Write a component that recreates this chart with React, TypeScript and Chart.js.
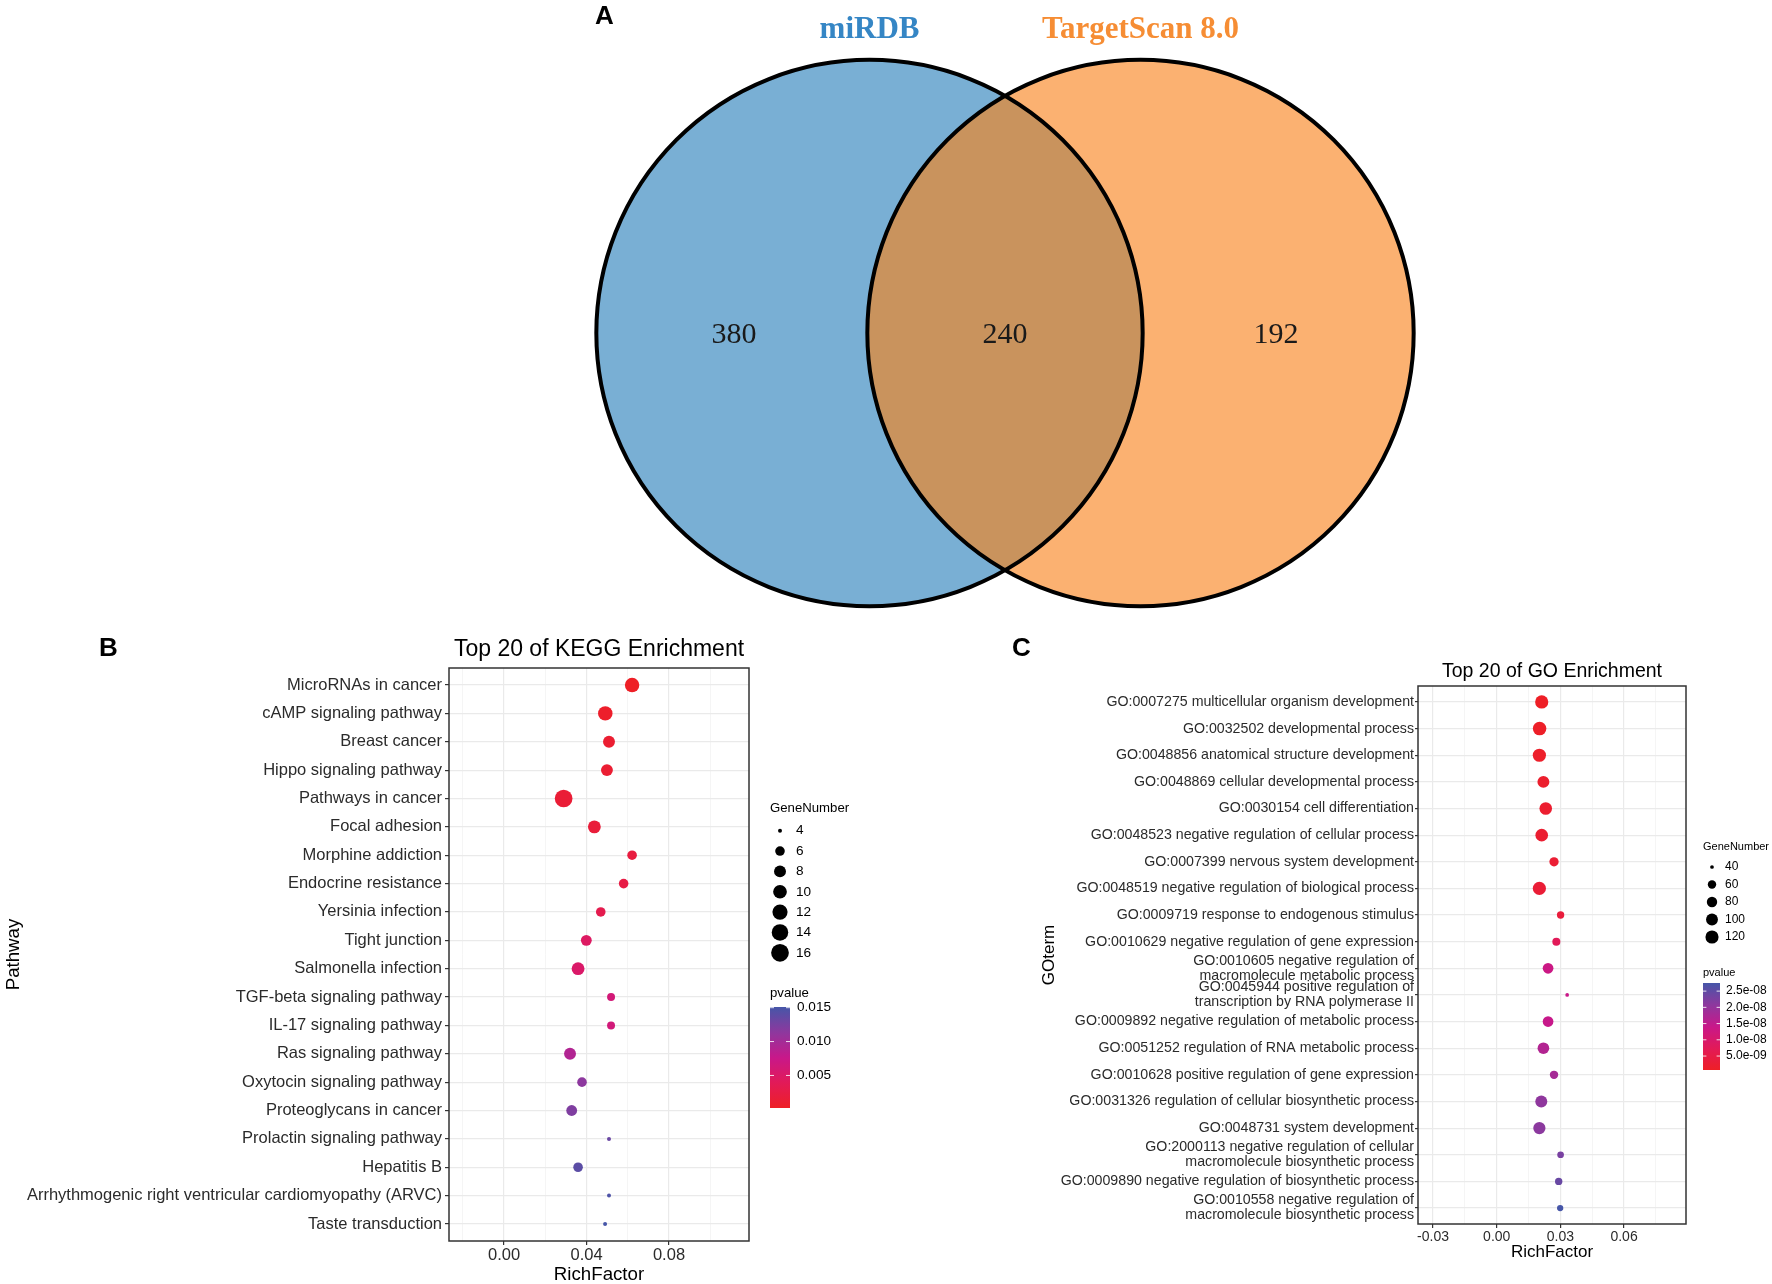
import React, { useEffect, useRef } from 'react';
import { Chart, registerables } from 'chart.js';

Chart.register(...registerables);

const SANS = '"Liberation Sans", Arial, Helvetica, sans-serif';
const SERIF = '"Liberation Serif", "Times New Roman", Times, serif';
Chart.defaults.font.family = SANS;

// ---------------- Panel A : Venn ----------------
const vennSetNames = ['miRDB', 'TargetScan 8.0'];
const vennCenterX = [-0.5, 0.5];
const vennCenterY = [0, 0];
const vennRadius = [1.008, 1.008];
const vennRegionCounts = ['380', '240', '192'];
const vennRegionX = [-1.0, 0.0, 1.0];
const vennRegionY = -0.009;
const vennFill = ['#79AFD4', '#FBB171'];
const vennOverlapFill = '#C9935D';
const vennNameColors = ['#3586C5', '#F68D34'];
const vennNameY = 1.12;

// ---------------- Panel B : KEGG ----------------
const keggPathways = [
  'MicroRNAs in cancer',
  'cAMP signaling pathway',
  'Breast cancer',
  'Hippo signaling pathway',
  'Pathways in cancer',
  'Focal adhesion',
  'Morphine addiction',
  'Endocrine resistance',
  'Yersinia infection',
  'Tight junction',
  'Salmonella infection',
  'TGF-beta signaling pathway',
  'IL-17 signaling pathway',
  'Ras signaling pathway',
  'Oxytocin signaling pathway',
  'Proteoglycans in cancer',
  'Prolactin signaling pathway',
  'Hepatitis B',
  'Arrhythmogenic right ventricular cardiomyopathy (ARVC)',
  'Taste transduction',
];
const keggRichFactor = [0.0621, 0.0491, 0.0509, 0.0499, 0.0289, 0.0438, 0.0621, 0.058, 0.0469, 0.0399, 0.0359, 0.0519, 0.0519, 0.032, 0.0378, 0.0328, 0.0509, 0.0359, 0.0509, 0.049];
const keggGeneNumber = [11, 11, 8, 8, 16, 9, 6, 6, 6, 7, 9, 5, 5, 8, 6, 7, 4, 6, 4, 4];
const keggPvalue = [0.0002, 0.0006, 0.001, 0.0012, 0.0014, 0.0017, 0.0021, 0.0025, 0.0032, 0.0047, 0.0051, 0.0062, 0.0064, 0.0091, 0.0114, 0.0121, 0.0132, 0.014, 0.0147, 0.0151];
const keggXTicks = [-0.02, 0, 0.02, 0.04, 0.06, 0.08, 0.1];
const keggXTickLabels = ['', '0.00', '', '0.04', '', '0.08', ''];
const keggSizeBreaks = [4, 6, 8, 10, 12, 14, 16];
const keggPBreaks = [0.005, 0.01, 0.015];
const keggPBreakLabels = ['0.005', '0.010', '0.015'];

// ---------------- Panel C : GO ----------------
const goTerms = [
  'GO:0007275 multicellular organism development',
  'GO:0032502 developmental process',
  'GO:0048856 anatomical structure development',
  'GO:0048869 cellular developmental process',
  'GO:0030154 cell differentiation',
  'GO:0048523 negative regulation of cellular process',
  'GO:0007399 nervous system development',
  'GO:0048519 negative regulation of biological process',
  'GO:0009719 response to endogenous stimulus',
  'GO:0010629 negative regulation of gene expression',
  'GO:0010605 negative regulation of\nmacromolecule metabolic process',
  'GO:0045944 positive regulation of\ntranscription by RNA polymerase II',
  'GO:0009892 negative regulation of metabolic process',
  'GO:0051252 regulation of RNA metabolic process',
  'GO:0010628 positive regulation of gene expression',
  'GO:0031326 regulation of cellular biosynthetic process',
  'GO:0048731 system development',
  'GO:2000113 negative regulation of cellular\nmacromolecule biosynthetic process',
  'GO:0009890 negative regulation of biosynthetic process',
  'GO:0010558 negative regulation of\nmacromolecule biosynthetic process',
];
const goRichFactor = [0.0212, 0.0202, 0.0201, 0.022, 0.0231, 0.0212, 0.027, 0.0201, 0.0301, 0.0281, 0.0242, 0.0332, 0.0242, 0.022, 0.027, 0.021, 0.0201, 0.0301, 0.0292, 0.0299];
const goGeneNumber = [121, 126, 121, 101, 111, 111, 68, 121, 52, 57, 84, 40, 84, 97, 60, 101, 105, 48, 52, 46];
const goPvalue = [7e-10, 1.0e-9, 1.2e-9, 1.6e-9, 2.0e-9, 2.2e-9, 2.6e-9, 2.8e-9, 3.6e-9, 7.4e-9, 1.33e-8, 1.38e-8, 1.42e-8, 1.66e-8, 1.8e-8, 2.06e-8, 2.1e-8, 2.27e-8, 2.43e-8, 2.75e-8];
const goXTicks = [-0.03, -0.015, 0, 0.015, 0.03, 0.045, 0.06, 0.075];
const goXTickLabels = ['-0.03', '', '0.00', '', '0.03', '', '0.06', ''];
const goSizeBreaks = [40, 60, 80, 100, 120];
const goPBreaks = [5e-9, 1e-8, 1.5e-8, 2e-8, 2.5e-8];
const goPBreakLabels = ['5.0e-09', '1.0e-08', '1.5e-08', '2.0e-08', '2.5e-08'];

// colour ramp for p-values (low -> high)
const pColorStops: [number, string][] = [
  [0, '#EE1F26'],
  [0.25, '#E21A58'],
  [0.5, '#C8188A'],
  [0.75, '#8D389E'],
  [1, '#4656A8'],
];

function hexToRgb(h: string) {
  const n = parseInt(h.slice(1), 16);
  return [(n >> 16) & 255, (n >> 8) & 255, n & 255];
}
function rampColor(t: number) {
  const tt = Math.max(0, Math.min(1, t));
  for (let i = 1; i < pColorStops.length; i++) {
    if (tt <= pColorStops[i][0]) {
      const [t0, c0] = pColorStops[i - 1];
      const [t1, c1] = pColorStops[i];
      const f = (tt - t0) / (t1 - t0);
      const a = hexToRgb(c0);
      const b = hexToRgb(c1);
      const m = a.map((v, k) => Math.round(v + (b[k] - v) * f));
      return `rgb(${m[0]},${m[1]},${m[2]})`;
    }
  }
  return pColorStops[pColorStops.length - 1][1];
}

type EnrichParams = {
  labels: string[];
  rich: number[];
  genes: number[];
  pvals: number[];
  xMin: number;
  xMax: number;
  xTicks: number[];
  xTickLabels: string[];
  yTitle: string;
  title: string;
  titleY: number;
  canvasW: number;
  canvasH: number;
  area: { left: number; right: number; top: number; bottom: number };
  fonts: { yTick: number; xTick: number; axisTitle: number; title: number; legendTitle: number; legendLabel: number };
  yTickLen: number;
  yTickPad: number;
  xTitlePadBottom: number;
  yTitlePadTop: number;
  dRange: [number, number];
  sizeBreaks: number[];
  pBreaks: number[];
  pBreakLabels: string[];
  legend: {
    x: number;
    sizeTitleY: number;
    dotX: number;
    dotY0: number;
    dotStep: number;
    labelX: number;
    pTitleY: number;
    barW: number;
    barTop: number;
    barBottom: number;
    pLabelX: number;
  };
};

function makeEnrichConfig(p: EnrichParams): any {
  const gMin = Math.min(...p.genes);
  const gMax = Math.max(...p.genes);
  const pMin = Math.min(...p.pvals);
  const pMax = Math.max(...p.pvals);
  const diam = (v: number) => p.dRange[0] + (p.dRange[1] - p.dRange[0]) * Math.sqrt(Math.max(0, (v - gMin) / (gMax - gMin)));
  const pColor = (v: number) => rampColor((v - pMin) / (pMax - pMin));
  const isMajor = (v: number) => {
    const i = p.xTicks.indexOf(v);
    return i >= 0 && p.xTickLabels[i] !== '';
  };

  const decor = {
    id: 'enrichDecor',
    afterDraw(chart: any) {
      const ctx = chart.ctx as CanvasRenderingContext2D;
      const a = chart.chartArea;
      const L = p.legend;
      ctx.save();
      // panel border
      ctx.strokeStyle = '#333333';
      ctx.lineWidth = 1.5;
      ctx.strokeRect(a.left, a.top, a.right - a.left, a.bottom - a.top);
      // title
      ctx.fillStyle = '#000';
      ctx.textAlign = 'center';
      ctx.textBaseline = 'middle';
      ctx.font = `${p.fonts.title}px ${SANS}`;
      ctx.fillText(p.title, (a.left + a.right) / 2, p.titleY);
      // size legend
      ctx.textAlign = 'left';
      ctx.font = `${p.fonts.legendTitle}px ${SANS}`;
      ctx.fillText('GeneNumber', L.x, L.sizeTitleY);
      ctx.font = `${p.fonts.legendLabel}px ${SANS}`;
      p.sizeBreaks.forEach((v, i) => {
        const y = L.dotY0 + i * L.dotStep;
        ctx.beginPath();
        ctx.arc(L.dotX, y, diam(v) / 2, 0, Math.PI * 2);
        ctx.fillStyle = '#000';
        ctx.fill();
        ctx.fillText(String(v), L.labelX, y);
      });
      // colour bar
      ctx.font = `${p.fonts.legendTitle}px ${SANS}`;
      ctx.fillText('pvalue', L.x, L.pTitleY);
      const grad = ctx.createLinearGradient(0, L.barBottom, 0, L.barTop);
      for (let k = 0; k <= 40; k++) grad.addColorStop(k / 40, rampColor(k / 40));
      ctx.fillStyle = grad;
      ctx.fillRect(L.x, L.barTop, L.barW, L.barBottom - L.barTop);
      ctx.font = `${p.fonts.legendLabel}px ${SANS}`;
      p.pBreaks.forEach((v, i) => {
        const y = L.barBottom - ((v - pMin) / (pMax - pMin)) * (L.barBottom - L.barTop);
        ctx.strokeStyle = 'rgba(255,255,255,0.85)';
        ctx.lineWidth = 1;
        ctx.beginPath();
        ctx.moveTo(L.x, y);
        ctx.lineTo(L.x + L.barW * 0.2, y);
        ctx.moveTo(L.x + L.barW * 0.8, y);
        ctx.lineTo(L.x + L.barW, y);
        ctx.stroke();
        ctx.fillStyle = '#000';
        ctx.fillText(p.pBreakLabels[i], L.pLabelX, y);
      });
      ctx.restore();
    },
  };

  return {
    type: 'bubble',
    data: {
      datasets: [
        {
          data: p.labels.map((_, i) => ({ x: p.rich[i], y: i, r: diam(p.genes[i]) / 2 })),
          backgroundColor: p.pvals.map((v) => pColor(v)),
          borderWidth: 0,
          hoverRadius: 0,
        },
      ],
    },
    options: {
      responsive: false,
      animation: false,
      events: [],
      layout: { autoPadding: false, padding: { left: 0, top: p.area.top, right: p.canvasW - p.area.right, bottom: 0 } },
      plugins: { legend: { display: false }, tooltip: { enabled: false }, title: { display: false } },
      scales: {
        x: {
          type: 'linear',
          min: p.xMin,
          max: p.xMax,
          afterBuildTicks: (s: any) => {
            s.ticks = p.xTicks.map((v) => ({ value: v }));
          },
          afterFit: (s: any) => {
            s.height = p.canvasH - p.area.bottom;
          },
          ticks: {
            autoSkip: false,
            maxRotation: 0,
            minRotation: 0,
            padding: 1,
            color: '#2b2b2b',
            font: { size: p.fonts.xTick, family: SANS },
            callback: (v: number) => {
              const i = p.xTicks.indexOf(v);
              return i >= 0 ? p.xTickLabels[i] : '';
            },
          },
          grid: {
            color: (c: any) => (c.tick && isMajor(c.tick.value) ? '#EAEAEA' : '#F3F3F3'),
            lineWidth: (c: any) => (c.tick && isMajor(c.tick.value) ? 1.2 : 0.8),
            tickColor: (c: any) => (c.tick && isMajor(c.tick.value) ? '#333333' : 'rgba(0,0,0,0)'),
            tickLength: 4,
            tickWidth: 1.2,
          },
          border: { display: false },
          title: {
            display: true,
            text: 'RichFactor',
            color: '#000',
            font: { size: p.fonts.axisTitle, family: SANS },
            padding: { top: 0, bottom: p.xTitlePadBottom },
          },
        },
        y: {
          type: 'linear',
          min: -0.6,
          max: p.labels.length - 0.4,
          reverse: true,
          afterBuildTicks: (s: any) => {
            s.ticks = p.labels.map((_, i) => ({ value: i }));
          },
          afterFit: (s: any) => {
            s.width = p.area.left;
          },
          ticks: {
            autoSkip: false,
            padding: p.yTickPad,
            color: '#2b2b2b',
            font: { size: p.fonts.yTick, family: SANS, lineHeight: 1.05 },
            callback: (v: number) => {
              const s = p.labels[v] || '';
              return s.indexOf('\n') >= 0 ? s.split('\n') : s;
            },
          },
          grid: {
            color: '#EAEAEA',
            lineWidth: 1.2,
            tickColor: '#333333',
            tickLength: p.yTickLen,
            tickWidth: 1.2,
          },
          border: { display: false },
          title: {
            display: true,
            text: p.yTitle,
            color: '#000',
            font: { size: p.fonts.axisTitle, family: SANS },
            padding: { top: p.yTitlePadTop, bottom: 0 },
          },
        },
      },
    },
    plugins: [decor],
  };
}

const keggParams: EnrichParams = {
  labels: keggPathways,
  rich: keggRichFactor,
  genes: keggGeneNumber,
  pvals: keggPvalue,
  xMin: -0.0267,
  xMax: 0.1188,
  xTicks: keggXTicks,
  xTickLabels: keggXTickLabels,
  yTitle: 'Pathway',
  title: 'Top 20 of KEGG Enrichment',
  titleY: 30,
  canvasW: 1000,
  canvasH: 664,
  area: { left: 449, right: 749, top: 48, bottom: 621 },
  fonts: { yTick: 16.5, xTick: 16.5, axisTitle: 18.7, title: 23, legendTitle: 13.2, legendLabel: 13.6 },
  yTickLen: 4,
  yTickPad: 3,
  xTitlePadBottom: -2,
  yTitlePadTop: 2.4,
  dRange: [4.0, 17.7],
  sizeBreaks: keggSizeBreaks,
  pBreaks: keggPBreaks,
  pBreakLabels: keggPBreakLabels,
  legend: {
    x: 770,
    sizeTitleY: 188,
    dotX: 780,
    dotY0: 210.7,
    dotStep: 20.35,
    labelX: 796,
    pTitleY: 373,
    barW: 20,
    barTop: 387,
    barBottom: 488,
    pLabelX: 797,
  },
};

const goParams: EnrichParams = {
  labels: goTerms,
  rich: goRichFactor,
  genes: goGeneNumber,
  pvals: goPvalue,
  xMin: -0.0371,
  xMax: 0.0892,
  xTicks: goXTicks,
  xTickLabels: goXTickLabels,
  yTitle: 'GOterm',
  title: 'Top 20 of GO Enrichment',
  titleY: 51.3,
  canvasW: 772,
  canvasH: 664,
  area: { left: 418, right: 686, top: 66, bottom: 604 },
  fonts: { yTick: 14.2, xTick: 14, axisTitle: 17, title: 19.5, legendTitle: 11, legendLabel: 12 },
  yTickLen: 3,
  yTickPad: 1,
  xTitlePadBottom: 21.8,
  yTitlePadTop: 38.8,
  dRange: [3.7, 13.5],
  sizeBreaks: goSizeBreaks,
  pBreaks: goPBreaks,
  pBreakLabels: goPBreakLabels,
  legend: {
    x: 703,
    sizeTitleY: 227,
    dotX: 712,
    dotY0: 247,
    dotStep: 17.5,
    labelX: 725,
    pTitleY: 353,
    barW: 17,
    barTop: 363,
    barBottom: 450,
    pLabelX: 726,
  },
};

const vennPxPerUnit = (chart: any) => chart.scales.x.getPixelForValue(1) - chart.scales.x.getPixelForValue(0);

function makeVennConfig(): any {
  const vennDecor = {
    id: 'vennDecor',
    afterDatasetsDraw(chart: any) {
      const ctx = chart.ctx as CanvasRenderingContext2D;
      const xs = chart.scales.x;
      const ys = chart.scales.y;
      const u = vennPxPerUnit(chart);
      const cx = vennCenterX.map((v) => xs.getPixelForValue(v));
      const cy = vennCenterY.map((v) => ys.getPixelForValue(v));
      const r = vennRadius.map((v) => v * u);
      // intersection region
      ctx.save();
      ctx.beginPath();
      ctx.arc(cx[0], cy[0], r[0], 0, Math.PI * 2);
      ctx.clip();
      ctx.beginPath();
      ctx.arc(cx[1], cy[1], r[1], 0, Math.PI * 2);
      ctx.fillStyle = vennOverlapFill;
      ctx.fill();
      ctx.restore();

      ctx.save();
      ctx.strokeStyle = '#000';
      ctx.lineWidth = 4;
      for (let i = 0; i < 2; i++) {
        ctx.beginPath();
        ctx.arc(cx[i], cy[i], r[i], 0, Math.PI * 2);
        ctx.stroke();
      }
      ctx.textAlign = 'center';
      ctx.textBaseline = 'middle';
      ctx.fillStyle = '#1a1a1a';
      ctx.font = `30px ${SERIF}`;
      vennRegionCounts.forEach((t, i) => {
        ctx.fillText(t, xs.getPixelForValue(vennRegionX[i]), ys.getPixelForValue(vennRegionY));
      });
      ctx.font = `bold 31px ${SERIF}`;
      vennSetNames.forEach((t, i) => {
        ctx.fillStyle = vennNameColors[i];
        ctx.fillText(t, xs.getPixelForValue(vennCenterX[i]), ys.getPixelForValue(vennNameY));
      });
      ctx.restore();
    },
  };
  return {
    type: 'bubble',
    data: {
      datasets: [
        {
          data: vennCenterX.map((x, i) => ({ x, y: vennCenterY[i], r: 1 })),
          backgroundColor: vennFill,
          borderWidth: 0,
          hoverRadius: 0,
          clip: false,
        },
      ],
    },
    options: {
      responsive: false,
      animation: false,
      events: [],
      layout: { autoPadding: false, padding: 0 },
      plugins: { legend: { display: false }, tooltip: { enabled: false } },
      scales: {
        x: { type: 'linear', display: false, min: -1.6236, max: 1.6236 },
        y: { type: 'linear', display: false, min: -1.059, max: 1.229 },
      },
    },
    plugins: [vennDecor],
  };
}

// after the scales exist, convert the circle radii (data units) into bubble pixel radii
function sizeVennCircles(chart: any) {
  const u = vennPxPerUnit(chart);
  chart.data.datasets[0].data.forEach((d: any, i: number) => {
    d.r = vennRadius[i] * u;
  });
  chart.update();
}

function ChartCanvas(props: { left: number; top: number; width: number; height: number; make: () => any; after?: (c: any) => void }) {
  const ref = useRef<HTMLCanvasElement>(null);
  useEffect(() => {
    const chart = new Chart(ref.current as HTMLCanvasElement, props.make());
    if (props.after) props.after(chart);
    return () => chart.destroy();
  }, []);
  return (
    <canvas
      ref={ref}
      width={props.width}
      height={props.height}
      style={{ position: 'absolute', left: props.left, top: props.top, width: props.width, height: props.height }}
    />
  );
}

function PanelLetter(props: { text: string; x: number; y: number }) {
  return (
    <div
      style={{
        position: 'absolute',
        left: props.x,
        top: props.y,
        transform: 'translate(-50%, -50%)',
        font: `bold 26px ${SANS}`,
        lineHeight: 1,
        color: '#000',
      }}
    >
      {props.text}
    </div>
  );
}

export default function App() {
  return (
    <div style={{ position: 'absolute', left: 0, top: 0, width: 1772, height: 1284, background: '#fff', overflow: 'hidden' }}>
      <ChartCanvas left={565} top={0} width={880} height={620} make={makeVennConfig} after={sizeVennCircles} />
      <ChartCanvas left={0} top={620} width={1000} height={664} make={() => makeEnrichConfig(keggParams)} />
      <ChartCanvas left={1000} top={620} width={772} height={664} make={() => makeEnrichConfig(goParams)} />
      <PanelLetter text="A" x={604.5} y={15} />
      <PanelLetter text="B" x={108.5} y={646.5} />
      <PanelLetter text="C" x={1021.5} y={646.5} />
    </div>
  );
}
